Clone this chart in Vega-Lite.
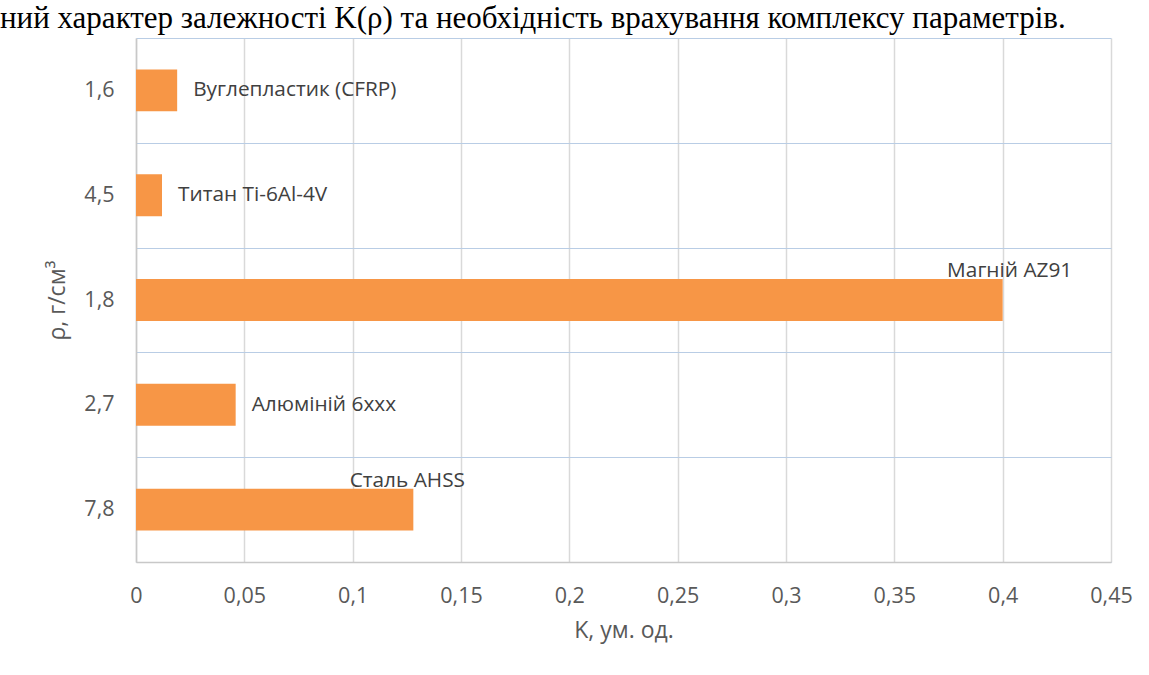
{
  "$schema": "https://vega.github.io/schema/vega-lite/v6.json",
  "width": 975,
  "height": 524,
  "autosize": {"type": "none"},
  "padding": {"left": 136, "top": 38, "right": 38, "bottom": 113},
  "background": "white",
  "title": {
    "text": "ний характер залежності K(ρ) та необхідність врахування комплексу параметрів.",
    "font": "Liberation Serif",
    "fontSize": 31,
    "fontWeight": "normal",
    "color": "#000000",
    "anchor": "start",
    "frame": "group",
    "dx": -136,
    "dy": 24,
    "offset": 16
  },
  "config": {
    "view": {"stroke": null},
    "font": "Open Sans"
  },
  "data": {
    "values": [
      {"rho": "1,6", "material": "Вуглепластик (CFRP)", "K": 0.019},
      {"rho": "4,5", "material": "Титан Ti-6Al-4V", "K": 0.012},
      {"rho": "1,8", "material": "Магній AZ91", "K": 0.4},
      {"rho": "2,7", "material": "Алюміній 6xxx", "K": 0.046},
      {"rho": "7,8", "material": "Сталь AHSS", "K": 0.128}
    ]
  },
  "encoding": {
    "y": {
      "field": "rho",
      "type": "nominal",
      "sort": null,
      "scale": {"padding": 0},
      "axis": {
        "title": "ρ, г/см³",
        "titleFont": "Open Sans",
        "titleFontSize": 23,
        "titleFontWeight": "normal",
        "titleColor": "#595959",
        "titlePadding": 14,
        "labelFont": "Open Sans",
        "labelFontSize": 21.5,
        "labelColor": "#595959",
        "labelPadding": 22,
        "ticks": false,
        "tickBand": "extent",
        "grid": true,
        "gridColor": "#b9cde5",
        "gridWidth": 1.2,
        "domain": true,
        "domainColor": "#c8c8c8",
        "domainWidth": 1.5
      }
    },
    "x": {
      "field": "K",
      "type": "quantitative",
      "scale": {"domain": [0, 0.45], "nice": false},
      "axis": {
        "title": "K, ум. од.",
        "titleFont": "Open Sans",
        "titleFontSize": 23,
        "titleFontWeight": "normal",
        "titleColor": "#595959",
        "titlePadding": 13,
        "values": [0, 0.05, 0.1, 0.15, 0.2, 0.25, 0.3, 0.35, 0.4, 0.45],
        "labelExpr": "replace(format(datum.value, '~g'), '.', ',')",
        "labelFont": "Open Sans",
        "labelFontSize": 21.5,
        "labelColor": "#595959",
        "labelPadding": 23,
        "labelFlush": false,
        "labelOverlap": false,
        "ticks": false,
        "grid": true,
        "gridColor": "#d9d9d9",
        "gridWidth": 1.5,
        "domainColor": "#c8c8c8",
        "domainWidth": 1.5
      }
    }
  },
  "layer": [
    {"mark": {"type": "bar", "color": "#F79646", "height": {"band": 0.4}}},
    {
      "transform": [{"filter": "datum.K < 0.1"}],
      "mark": {"type": "text", "align": "left", "baseline": "middle", "dx": 16, "font": "Open Sans", "fontSize": 20.8, "color": "#404040"},
      "encoding": {"text": {"field": "material"}}
    },
    {
      "transform": [{"filter": "datum.K >= 0.3"}],
      "mark": {"type": "text", "align": "center", "baseline": "middle", "dx": 7, "dy": -29, "font": "Open Sans", "fontSize": 20.8, "color": "#404040"},
      "encoding": {"text": {"field": "material"}}
    },
    {
      "transform": [{"filter": "datum.K >= 0.1 && datum.K < 0.3"}],
      "mark": {"type": "text", "align": "center", "baseline": "middle", "dx": -6, "dy": -29, "font": "Open Sans", "fontSize": 20.8, "color": "#404040"},
      "encoding": {"text": {"field": "material"}}
    }
  ]
}
